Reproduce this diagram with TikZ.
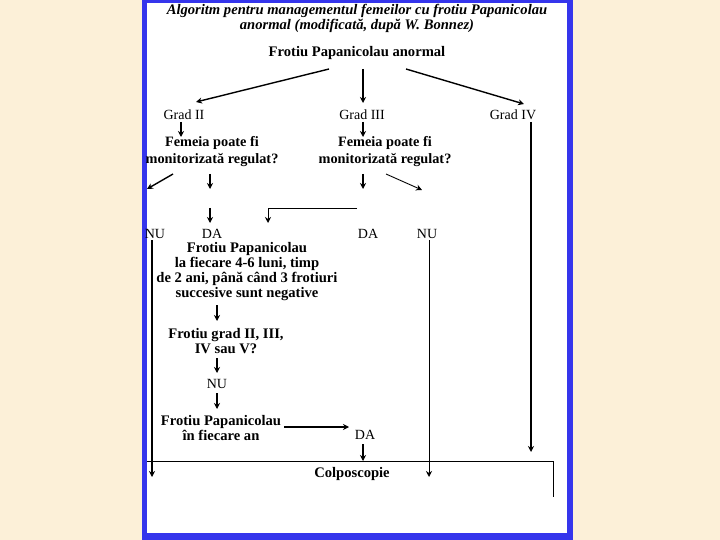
\documentclass[tikz,border=0pt]{standalone}
\usepackage{fontspec}
\setmainfont{Liberation Serif}
\usetikzlibrary{arrows.meta}
\definecolor{cream}{HTML}{FCF0D8}
\definecolor{frameblue}{HTML}{3535EC}
\begin{document}
\begin{tikzpicture}[x=1pt,y=-1pt,
  txt/.style={inner sep=0pt,align=center,font=\fontsize{14}{15}\selectfont},
  btxt/.style={inner sep=0pt,align=center,font=\fontsize{14.6}{15}\selectfont\bfseries},
  arr/.style={line width=1.4pt,-{Stealth[length=6pt,width=6pt]}},
  thinarr/.style={line width=0.9pt,-{Stealth[length=6pt,width=6pt]}},
  ln/.style={line width=1pt}]
\useasboundingbox (0,0) rectangle (720,540);
\fill[cream] (0,0) rectangle (720,540);
\fill[frameblue] (141.5,-5) rectangle (573,540);
\fill[white] (147,3) rectangle (567,533);
% title
\node[inner sep=0pt,align=center,font=\fontsize{14.6}{13.2}\selectfont\bfseries\itshape] (title) at (357,18.5) {Algoritm pentru managementul femeilor cu frotiu Papanicolau\\anormal (modificată, după W. Bonnez)};
\node[btxt] (root) at (357,53) {Frotiu Papanicolau anormal};
\node[txt] (g2) at (184,115) {Grad II};
\node[txt] (g3) at (362,115) {Grad III};
\node[txt] (g4) at (513,115) {Grad IV};
\node[btxt,font=\fontsize{14.3}{17}\selectfont\bfseries] (q2) at (212,152) {Femeia poate fi\\monitorizată regulat?};
\node[btxt,font=\fontsize{14.3}{17}\selectfont\bfseries] (q3) at (385,152) {Femeia poate fi\\monitorizată regulat?};
\node[txt] (nu1) at (155,234) {NU};
\node[txt] (da1) at (212,234) {DA};
\node[txt] (da2) at (368,234) {DA};
\node[txt] (nu2) at (427,234) {NU};
\node[btxt] (f1) at (247,272) {Frotiu Papanicolau\\la fiecare 4-6 luni, timp\\de 2 ani, până când 3 frotiuri\\succesive sunt negative};
\node[btxt] (q4) at (226,341) {Frotiu grad II, III,\\IV sau V?};
\node[txt] (nu3) at (217,384) {NU};
\node[btxt] (f2) at (221,428) {Frotiu Papanicolau\\în fiecare an};
\node[txt] (da3) at (365,435) {DA};
\node[btxt] (colp) at (352,474) {Colposcopie};
% free-end coordinates
\coordinate (a1s) at (329,69); \coordinate (a1e) at (196,102);
\coordinate (a2s) at (363,69); \coordinate (a2e) at (363,103);
\coordinate (a3s) at (406,69); \coordinate (a3e) at (524,104);
\coordinate (b1s) at (181,122); \coordinate (b1e) at (181,137);
\coordinate (b2s) at (363,122); \coordinate (b2e) at (363,137);
\coordinate (c1s) at (173,174); \coordinate (c1e) at (147,189);
\coordinate (c2s) at (210,174); \coordinate (c2e) at (210,189);
\coordinate (c3s) at (363,174); \coordinate (c3e) at (363,189);
\coordinate (c4s) at (386,174); \coordinate (c4e) at (422,190);
\coordinate (d1s) at (210,208); \coordinate (d1e) at (210,223);
\coordinate (d2s) at (357,208); \coordinate (d2e) at (268,223);
\coordinate (nu1t) at (152,240); \coordinate (nu1b) at (152,477);
\coordinate (nu2t) at (429,240); \coordinate (nu2b) at (429,477);
\coordinate (g4t) at (531,122); \coordinate (g4b) at (531,452);
\coordinate (e1s) at (217,305); \coordinate (e1e) at (217,321);
\coordinate (e2s) at (217,358); \coordinate (e2e) at (217,373);
\coordinate (e3s) at (217,393); \coordinate (e3e) at (217,409);
\coordinate (fs) at (284,427); \coordinate (fe) at (349,427);
\coordinate (gs) at (363,444); \coordinate (ge) at (363,461);
\coordinate (cl) at (147,461); \coordinate (cr) at (553,461); \coordinate (crb) at (553,497);
% connectors
\draw[arr] (a1s) -- (a1e);
\draw[arr] (a2s) -- (a2e);
\draw[arr] (a3s) -- (a3e);
\draw[arr] (b1s) -- (b1e);
\draw[arr] (b2s) -- (b2e);
\draw[arr] (c1s) -- (c1e);
\draw[arr] (c2s) -- (c2e);
\draw[arr] (c3s) -- (c3e);
\draw[thinarr] (c4s) -- (c4e);
\draw[arr] (d1s) -- (d1e);
\draw[thinarr] (d2s) -| (d2e);
\draw[line width=1.6pt,-{Stealth[length=6pt,width=6pt]}] (nu1t) -- (nu1b);
\draw[thinarr] (nu2t) -- (nu2b);
\draw[line width=1.8pt,-{Stealth[length=6pt,width=6pt]}] (g4t) -- (g4b);
\draw[arr] (e1s) -- (e1e);
\draw[arr] (e2s) -- (e2e);
\draw[arr] (e3s) -- (e3e);
\draw[line width=2pt,-{Stealth[length=6pt,width=6pt]}] (fs) -- (fe);
\draw[arr] (gs) -- (ge);
\draw[ln] (cl) -- (cr) -- (crb);
\end{tikzpicture}
\end{document}
